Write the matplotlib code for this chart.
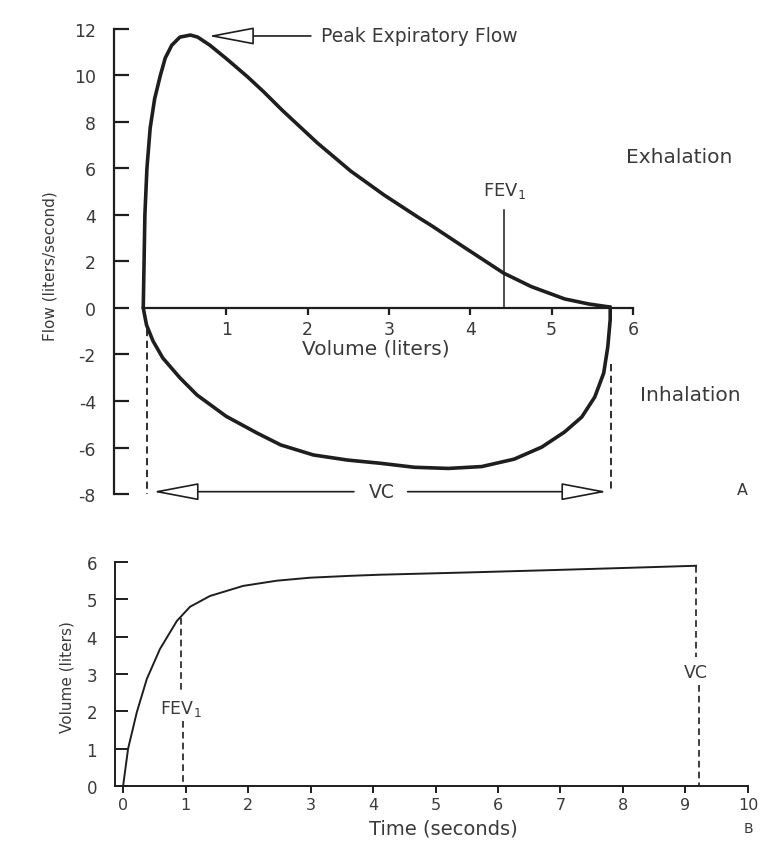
import matplotlib
matplotlib.use("Agg")
import matplotlib.pyplot as plt

plt.rcParams['font.family'] = ['DejaVu Sans']
plt.rcParams['axes.unicode_minus'] = False

# ---- Panel A: flow-volume loop ----
exp_volume = [-0.02, -0.01, 0.0, 0.025, 0.065, 0.12, 0.19, 0.25, 0.33, 0.43, 0.56, 0.65,
              0.80, 1.01, 1.26, 1.46, 1.69, 2.12, 2.53, 2.94, 3.36, 3.52, 3.93, 4.41,
              4.75, 5.16, 5.46, 5.70]
exp_flow = [0.0, 2.0, 4.0, 6.0, 7.74, 9.0, 10.0, 10.75, 11.3, 11.65, 11.74, 11.65,
            11.3, 10.7, 9.95, 9.3, 8.5, 7.1, 5.89, 4.86, 3.9, 3.55, 2.6, 1.5,
            0.92, 0.39, 0.17, 0.05]
insp_volume = [-0.02, 0.02, 0.10, 0.22, 0.43, 0.64, 1.0, 1.38, 1.67, 2.07, 2.49,
               2.90, 3.31, 3.73, 4.14, 4.54, 4.88, 5.16, 5.37, 5.53, 5.64, 5.69, 5.72, 5.72]
insp_flow = [0.0, -0.73, -1.42, -2.15, -3.0, -3.74, -4.66, -5.38, -5.89, -6.32, -6.54,
             -6.68, -6.85, -6.9, -6.82, -6.5, -5.98, -5.33, -4.69, -3.83, -2.8, -1.68, -0.5, 0.05]
flow_ticks = [-8, -6, -4, -2, 0, 2, 4, 6, 8, 10, 12]
volume_ticks = [1, 2, 3, 4, 5, 6]
fev1_volume = 4.42
fev1_flow = 4.2
pef_volume = 0.53
pef_flow = 11.7
vc_start = 0.02
vc_end = 5.73

# ---- Panel B: volume-time curve ----
time_s = [0.0, 0.08, 0.22, 0.38, 0.59, 0.86, 1.07, 1.39, 1.92, 2.46, 2.99, 3.63, 4.11,
          5.5, 6.78, 8.0, 9.17]
volume_l = [0.0, 1.0, 1.98, 2.87, 3.67, 4.42, 4.8, 5.09, 5.36, 5.5, 5.58, 5.63, 5.66,
            5.72, 5.78, 5.84, 5.9]
time_ticks = [0, 1, 2, 3, 4, 5, 6, 7, 8, 9, 10]
vol_ticks = [0, 1, 2, 3, 4, 5, 6]
fev1_time = 0.92
fev1_vol = 4.5
vc_time = 9.17
vc_vol = 5.9

LINE = '#1e1e1e'
TXT = '#3a3a3a'

fig = plt.figure(figsize=(7.68, 8.45), dpi=100)

axA = fig.add_axes([0.1484, 0.4142, 0.6758, 0.5503])
axA.set_xlim(-0.38, 6.0)
axA.set_ylim(-8, 12)
for s in ['top', 'right']:
    axA.spines[s].set_visible(False)
axA.spines['bottom'].set_position(('data', 0))
axA.spines['bottom'].set_bounds(0, 6)
axA.spines['left'].set_bounds(-8, 12)
for s in ['bottom', 'left']:
    axA.spines[s].set_linewidth(1.6)
    axA.spines[s].set_color(LINE)
axA.set_yticks(flow_ticks)
axA.set_xticks(volume_ticks)
axA.tick_params(axis='y', direction='in', length=11, width=1.6, pad=13,
                labelsize=12.5, colors=LINE, labelcolor=TXT)
axA.tick_params(axis='x', direction='out', length=5, width=1.6, pad=4,
                labelsize=12.5, colors=LINE, labelcolor=TXT)

axA.plot(exp_volume, exp_flow, color=LINE, lw=2.6, solid_capstyle='round',
         solid_joinstyle='round')
axA.plot(insp_volume, insp_flow, color=LINE, lw=2.6, solid_capstyle='round',
         solid_joinstyle='round')

# FEV1 marker
axA.plot([fev1_volume, fev1_volume], [0, fev1_flow], color=LINE, lw=1.1)
axA.text(fev1_volume, fev1_flow + 0.45, 'FEV$_1$', ha='center', va='bottom',
         fontsize=13, color=TXT)

# Peak expiratory flow arrow
arrow_style = '-|>,head_length=29,head_width=5.5'
axA.annotate('', xy=(pef_volume + 0.25, pef_flow), xytext=(pef_volume + 1.51, pef_flow),
             arrowprops=dict(arrowstyle=arrow_style, mutation_scale=1, fc='white',
                             ec=LINE, lw=1.2, shrinkA=0, shrinkB=0))
axA.text(pef_volume + 1.63, pef_flow, 'Peak Expiratory Flow', ha='left', va='center',
         fontsize=13.5, color=TXT)

# VC dashed lines and arrows
dash = (0, (4, 2.5))
axA.plot([vc_start, vc_start], [-0.9, -8.0], color=LINE, lw=1.3, linestyle=dash)
axA.plot([vc_end, vc_end], [-2.4, -7.8], color=LINE, lw=1.3, linestyle=dash)
axA.annotate('', xy=(vc_start + 0.08, -7.9), xytext=(2.57, -7.9),
             arrowprops=dict(arrowstyle=arrow_style, mutation_scale=1, fc='white',
                             ec=LINE, lw=1.2, shrinkA=0, shrinkB=0))
axA.annotate('', xy=(vc_end - 0.05, -7.9), xytext=(3.23, -7.9),
             arrowprops=dict(arrowstyle=arrow_style, mutation_scale=1, fc='white',
                             ec=LINE, lw=1.2, shrinkA=0, shrinkB=0))
axA.text(2.91, -7.9, 'VC', ha='center', va='center', fontsize=13.5, color=TXT)

axA.text(2.84, -1.72, 'Volume (liters)', ha='center', va='center', fontsize=14.5, color=TXT)
axA.text(-1.17, 1.85, 'Flow (liters/second)', ha='center', va='center', rotation=90,
         fontsize=11, color=TXT, clip_on=False)
axA.text(6.57, 6.5, 'Exhalation', ha='center', va='center', fontsize=14.5, color=TXT,
         clip_on=False)
axA.text(6.7, -3.7, 'Inhalation', ha='center', va='center', fontsize=14.5, color=TXT,
         clip_on=False)
axA.text(7.35, -7.8, 'A', ha='center', va='center', fontsize=11.5, color=TXT, clip_on=False)

# ---- Panel B ----
axB = fig.add_axes([0.1497, 0.0686, 0.8242, 0.2651])
axB.set_xlim(-0.13, 10)
axB.set_ylim(0, 6)
for s in ['top', 'right']:
    axB.spines[s].set_visible(False)
for s in ['bottom', 'left']:
    axB.spines[s].set_linewidth(1.4)
    axB.spines[s].set_color(LINE)
axB.set_xticks(time_ticks)
axB.set_yticks(vol_ticks)
axB.tick_params(axis='y', direction='in', length=9, width=1.4, pad=13,
                labelsize=12, colors=LINE, labelcolor=TXT)
axB.tick_params(axis='x', direction='out', length=5, width=1.4, pad=3,
                labelsize=11.5, colors=LINE, labelcolor=TXT)

axB.plot(time_s, volume_l, color=LINE, lw=1.4, solid_joinstyle='round')
axB.plot([fev1_time, fev1_time], [fev1_vol, 2.55], color=LINE, lw=1.2, linestyle=dash)
axB.plot([fev1_time + 0.04, fev1_time + 0.04], [1.75, 0], color=LINE, lw=1.2, linestyle=dash)
axB.text(0.92, 2.1, 'FEV$_1$', ha='center', va='center', fontsize=12.5, color=TXT)
axB.plot([vc_time, vc_time], [vc_vol, 3.45], color=LINE, lw=1.2, linestyle=dash)
axB.plot([vc_time + 0.04, vc_time + 0.04], [2.7, 0], color=LINE, lw=1.2, linestyle=dash)
axB.text(vc_time, 3.05, 'VC', ha='center', va='center', fontsize=12.5, color=TXT)

axB.text(5.12, -1.12, 'Time (seconds)', ha='center', va='center', fontsize=14,
         color=TXT, clip_on=False)
axB.text(-0.9, 2.95, 'Volume (liters)', ha='center', va='center', rotation=90,
         fontsize=11, color=TXT, clip_on=False)
axB.text(10.0, -1.12, 'B', ha='center', va='center', fontsize=10, color=TXT, clip_on=False)

fig.savefig('out.png', dpi=100)
